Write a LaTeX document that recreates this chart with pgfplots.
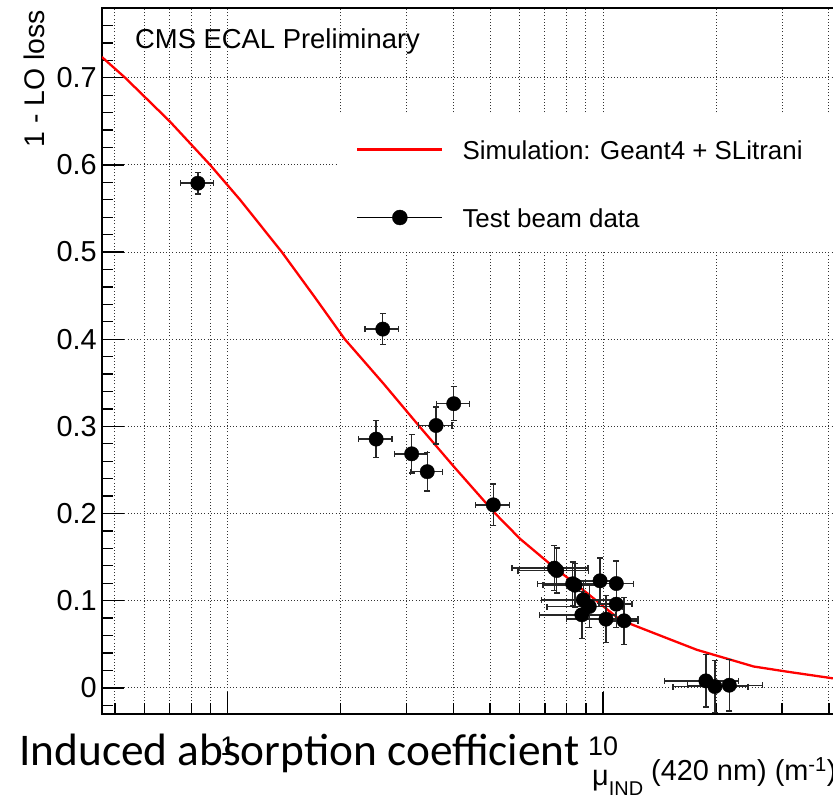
\documentclass[border=0pt]{standalone}
\usepackage{fontspec}
\setmainfont{Liberation Sans}
\newfontfamily\calibri{Carlito}
\usepackage{pgfplots}
\pgfplotsset{compat=1.18}
\usetikzlibrary{calc}

\begin{document}
\begin{tikzpicture}
\begin{axis}[
  scale only axis,
  width=763.3bp, height=706bp,
  xmode=log, log basis x=10,
  xmin=0.462, xmax=50,
  ymin=-0.03, ymax=0.78,
  xtick={1,10}, xticklabels={1,10},
  minor xtick={0.5,0.6,0.7,0.8,0.9,2,3,4,5,6,7,8,9,20,30,40,50},
  ytick={0,0.1,0.2,0.3,0.4,0.5,0.6,0.7},
  yticklabels={0,0.1,0.2,0.3,0.4,0.5,0.6,0.7},
  minor ytick={-0.02,0.02,0.04,0.06,0.08,0.12,0.14,0.16,0.18,0.22,0.24,0.26,0.28,0.32,0.34,0.36,0.38,0.42,0.44,0.46,0.48,0.52,0.54,0.56,0.58,0.62,0.64,0.66,0.68,0.72,0.74,0.76,0.78},
  tick pos=left, tick align=inside,
  major tick length=22bp, minor tick length=11bp,
  tick style={black, line width=1.3bp},
  xmajorgrids, xminorgrids, ymajorgrids,
  grid style={black!80, line width=0.9bp, dash pattern=on 1bp off 2.2bp},
  axis line style={line width=1.3bp},
  yticklabel style={font=\fontsize{29}{29}\selectfont, inner sep=0pt, xshift=-5bp},
  xticklabel style={font=\fontsize{27}{27}\selectfont, inner sep=0pt, yshift=-23bp},
  legend style={at={(0.3328,0.8140)}, anchor=north west, draw=none, fill=none,
    inner sep=0pt, row sep=48bp, font=\fontsize{26}{26}\selectfont,
    nodes={inner sep=0pt, text height=20bp, text depth=0bp},
    /tikz/every odd column/.append style={column sep=19bp}},
  legend cell align=left,
]
\fill[white] (rel axis cs:0.3079,0.6572) rectangle (rel axis cs:1,0.8484);
\coordinate (bl) at (rel axis cs:0,0);

\addplot[red, line width=2.3bp, no markers, line join=round,
  legend image code/.code={\draw[red,line width=2.3bp] (0bp,0bp) -- (85bp,0bp);}]
  table {
x y
0.4616 0.7238
0.5325 0.700
0.700 0.650
0.897 0.600
1.078 0.560
1.393 0.500
1.70 0.449
2.05 0.400
2.60 0.349
3.24 0.300
4.0 0.254
5.16 0.200
6.01 0.171
7.37 0.139
9.05 0.109
11.1 0.078
14.8 0.057
17.8 0.0436
25.2 0.0245
30.8 0.0187
40.7 0.0111
50 0.0085
};
\addlegendentry{Simulation: Geant4 + SLitrani}

\addplot[black, only marks, mark=*, mark size=7.2bp,
  legend image code/.code={\draw[black,line width=1.4bp] (0bp,0bp) -- (85bp,0bp); \fill[black] (42.5bp,0bp) circle[radius=7.5bp];},
  error bars/.cd, x dir=both, x explicit, y dir=both, y explicit,
  error bar style={line width=1.4bp, black!85},
  error mark options={rotate=90, line width=1.4bp, mark size=3bp, black!85}]
  table[x=x, y=y, x error=ex, y error=ey] {
x y ex ey
0.832 0.579 0.085 0.0126
2.588 0.4116 0.265 0.018
2.485 0.2854 0.255 0.021
3.09 0.2685 0.31 0.022
3.40 0.248 0.33 0.022
3.59 0.301 0.37 0.021
4.00 0.326 0.40 0.0195
5.10 0.210 0.53 0.024
7.42 0.1374 1.7 0.026
7.53 0.1346 1.6 0.026
8.30 0.1194 1.6 0.025
8.42 0.1178 1.5 0.025
9.82 0.1228 1.3 0.026
10.85 0.1197 1.2 0.026
8.86 0.101 2.0 0.022
9.19 0.0933 2.1 0.024
10.85 0.096 1.1 0.027
8.78 0.0838 2.0 0.027
10.18 0.0788 2.2 0.027
11.38 0.0769 1.0 0.027
18.8 0.008 4.2 0.030
19.87 0.0015 4.5 0.030
21.7 0.003 4.9 0.0295
};
\addlegendentry{Test beam data}
\end{axis}

\node[anchor=base west, inner sep=0pt, font=\fontsize{27.5}{27.5}\selectfont] at ($(bl)+(33bp,665.7bp)$) {CMS ECAL Preliminary};
\node[rotate=90, anchor=base east, inner sep=0pt, font=\fontsize{28.5}{28.5}\selectfont] at ($(bl)+(-57bp,704bp)$) {1 - LO loss};
\node[anchor=base west, inner sep=0pt, font=\calibri\fontsize{45.5}{45.5}\selectfont] at ($(bl)+(-83bp,-51bp)$) {Induced absorption coefficient};
\node[anchor=base west, inner sep=0pt, font=\fontsize{29}{29}\selectfont] at ($(bl)+(490bp,-66bp)$) {\raisebox{-5bp}{μ}\raisebox{-15bp}{\fontsize{20}{20}\selectfont IND}\hspace{8bp}(420 nm) (m\textsuperscript{-1})};

\pgfresetboundingbox
\path ($(bl)+(-102bp,-81bp)$) rectangle ($(bl)+(731bp,714bp)$);
\end{tikzpicture}
\end{document}
